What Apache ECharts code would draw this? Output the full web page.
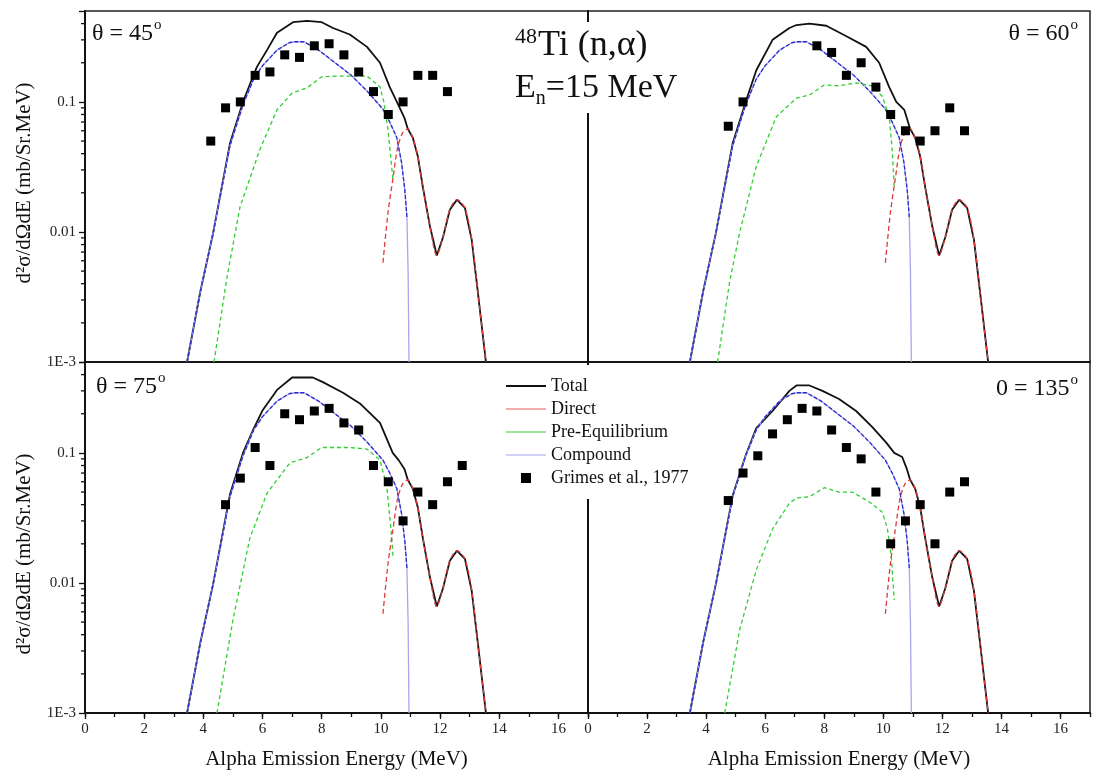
<!DOCTYPE html>
<html><head><meta charset="utf-8">
<script src="https://cdn.jsdelivr.net/npm/echarts@6/dist/echarts.min.js"></script>
<style>html,body{margin:0;padding:0;background:#fff}#c{width:1094px;height:775px}</style>
</head><body><div id="c"></div>
<script>
// ---------- DATA ----------
const directCurve = [[10.07,0.0058],[10.24,0.014],[10.41,0.026],[10.57,0.045],[10.74,0.058],[10.91,0.062],[11.08,0.053],[11.25,0.038],[11.42,0.022],[11.66,0.011],[11.89,0.0066],[12.1,0.0091],[12.33,0.0148],[12.57,0.0177],[12.84,0.0153],[13.07,0.0087],[13.28,0.0034],[13.55,0.001]];
const totalTail = [[11.08,0.053],[11.25,0.038],[11.42,0.022],[11.66,0.011],[11.89,0.0066],[12.1,0.0091],[12.33,0.0148],[12.57,0.0177],[12.84,0.0153],[13.07,0.0087],[13.28,0.0034],[13.55,0.001]];
const compoundCurve = [[3.45,0.001],[3.9,0.0035],[4.33,0.0098],[4.9,0.046],[5.34,0.095],[5.7,0.15],[6.0,0.19],[6.49,0.25],[6.9,0.285],[7.1,0.29],[7.4,0.29],[7.9,0.25],[8.45,0.2],[9.0,0.16],[9.55,0.12],[10.07,0.088],[10.3,0.07],[10.54,0.053],[10.7,0.034],[10.81,0.021],[10.88,0.013],[10.92,0.005],[10.95,0.001]];

const total45 = [[3.45,0.001],[3.9,0.0035],[4.33,0.0098],[4.9,0.048],[5.34,0.1],[5.81,0.186],[6.15,0.25],[6.49,0.34],[7.03,0.41],[7.5,0.42],[8.0,0.41],[8.38,0.37],[8.95,0.33],[9.53,0.265],[9.97,0.2],[10.3,0.13],[10.54,0.1],[10.8,0.075],[10.91,0.062]];
const total60 = [[3.45,0.001],[3.9,0.0035],[4.33,0.0098],[4.9,0.048],[5.34,0.1],[5.7,0.175],[6.25,0.3],[6.82,0.37],[7.06,0.39],[7.5,0.4],[8.07,0.385],[8.75,0.32],[9.42,0.265],[9.86,0.2],[10.2,0.13],[10.44,0.1],[10.71,0.087],[10.91,0.062]];
const total75 = [[3.45,0.001],[3.9,0.0035],[4.33,0.0098],[4.9,0.048],[5.34,0.1],[5.68,0.15],[6.01,0.214],[6.49,0.305],[7.0,0.38],[7.7,0.38],[8.04,0.35],[8.72,0.29],[9.29,0.24],[9.97,0.17],[10.4,0.1],[10.6,0.088],[10.8,0.075],[10.91,0.062]];
const total135 = [[3.45,0.001],[3.9,0.0035],[4.33,0.0098],[4.9,0.047],[5.34,0.096],[5.7,0.155],[6.25,0.21],[6.82,0.3],[7.06,0.33],[7.5,0.33],[7.94,0.3],[8.5,0.26],[9.08,0.21],[9.63,0.158],[10.1,0.12],[10.37,0.1],[10.64,0.093],[10.8,0.075],[10.91,0.062]];

const preEq45 = [[4.36,0.001],[4.8,0.0045],[5.24,0.0156],[5.91,0.043],[6.49,0.087],[7.0,0.117],[7.5,0.128],[8.0,0.156],[8.5,0.158],[9.05,0.158],[9.53,0.158],[9.97,0.13],[10.1,0.1],[10.24,0.061],[10.41,0.025]];
const preEq60 = [[4.39,0.001],[4.8,0.0042],[5.14,0.01],[5.7,0.032],[6.38,0.077],[7.06,0.107],[7.5,0.113],[8.0,0.135],[8.5,0.133],[9.08,0.14],[9.6,0.133],[9.97,0.11],[10.2,0.077],[10.3,0.043],[10.37,0.022]];
const preEq75 = [[4.46,0.001],[5.0,0.0052],[5.57,0.022],[6.15,0.049],[6.93,0.084],[7.5,0.092],[8.0,0.11],[8.95,0.11],[9.53,0.107],[9.97,0.088],[10.2,0.055],[10.37,0.022],[10.41,0.016]];
const preEq135 = [[4.63,0.001],[5.14,0.0044],[5.7,0.0126],[6.25,0.026],[6.82,0.041],[7.06,0.045],[7.5,0.046],[8.0,0.054],[8.5,0.05],[8.95,0.05],[9.53,0.042],[9.97,0.035],[10.14,0.026],[10.27,0.016],[10.37,0.0074]];

const energies45 = [4.25,4.75,5.25,5.75,6.25,6.75,7.25,7.75,8.25,8.75,9.25,9.75,10.25,10.75,11.25,11.75,12.25];
const grimes45 = [0.05,0.09,0.1,0.16,0.17,0.23,0.22,0.27,0.28,0.23,0.17,0.12,0.08,0.1,0.16,0.16,0.12];
const energies60 = [4.75,5.25,7.75,8.25,8.75,9.25,9.75,10.25,10.75,11.25,11.75,12.25,12.75];
const grimes60 = [0.065,0.1,0.27,0.24,0.16,0.2,0.13,0.08,0.06,0.05,0.06,0.09,0.06];
const energies75 = [4.75,5.25,5.75,6.25,6.75,7.25,7.75,8.25,8.75,9.25,9.75,10.25,10.75,11.25,11.75,12.25,12.75];
const grimes75 = [0.04,0.064,0.11,0.08,0.2,0.18,0.21,0.22,0.17,0.15,0.08,0.06,0.03,0.05,0.04,0.06,0.08];
const energies135 = [4.75,5.25,5.75,6.25,6.75,7.25,7.75,8.25,8.75,9.25,9.75,10.25,10.75,11.25,11.75,12.25,12.75];
const grimes135 = [0.043,0.07,0.095,0.14,0.18,0.22,0.21,0.15,0.11,0.09,0.05,0.02,0.03,0.04,0.02,0.05,0.06];

const yMinorTicks = [0.002,0.003,0.004,0.005,0.006,0.007,0.008,0.009,0.02,0.03,0.04,0.05,0.06,0.07,0.08,0.09,0.2,0.3,0.4];
const panelLabels = ['θ = 45', 'θ = 60', 'θ = 75', '0 = 135'];
const legendNames = ['Total','Direct','Pre-Equilibrium','Compound','Grimes et al., 1977'];
const xTitle = 'Alpha Emission Energy (MeV)';
const yTitle = 'd²σ/dΩdE (mb/Sr.MeV)';

// ---------- CHART ----------
const FONT = "'Liberation Serif','Times New Roman',serif";
const chart = echarts.init(document.getElementById('c'), null, {renderer:'canvas'});

const grids = [
  {left:85, top:11, width:503, height:351},
  {left:588, top:11, width:502, height:351},
  {left:85, top:362, width:503, height:351},
  {left:588, top:362, width:502, height:351}
].map(g => Object.assign({show:true, borderColor:'#222', borderWidth:1.5, backgroundColor:'transparent'}, g));

function yLabel(v){
  const l = Math.log10(v);
  if (Math.abs(l+3) < 1e-6) return '1E-3';
  if (Math.abs(l+2) < 1e-6) return '0.01';
  if (Math.abs(l+1) < 1e-6) return '0.1';
  return '';
}
const xAxes = [];
for (let i=0;i<4;i++){
  const bottom = i >= 2;
  xAxes.push({
    type:'value', gridIndex:i, position:'bottom', min:0, max:17, interval:2,
    axisLine:{show:true, lineStyle:{color:'#111', width: bottom?2:1.5}},
    axisTick:{show:bottom, inside:false, length:6, lineStyle:{color:'#111', width:1.3}},
    axisLabel:{show:bottom, showMaxLabel:false, margin:9, fontFamily:FONT, fontSize:15, color:'#222',
      formatter: v => (v % 2 === 0 ? String(v) : '')},
    splitLine:{show:false},
    name: bottom ? xTitle : '', nameLocation:'middle', nameGap:36,
    nameTextStyle:{fontFamily:FONT, fontSize:21, color:'#111'}
  });
}
for (let i=2;i<4;i++){
  xAxes.push({
    type:'value', gridIndex:i, position:'bottom', min:0, max:17, interval:1,
    axisLine:{show:false}, axisLabel:{show:false}, splitLine:{show:false},
    axisTick:{show:true, inside:false, length:4, lineStyle:{color:'#111', width:1.3}}
  });
}
const yAxes = [];
for (let i=0;i<4;i++){
  const left = (i % 2 === 0);
  yAxes.push({
    type:'log', logBase:10, gridIndex:i, position:'left', min:0.001, max:0.5,
    axisLine:{show:true, lineStyle:{color:'#111', width:2}},
    axisTick:{show:left, inside:false, length:6, lineStyle:{color:'#111', width:1.3}},
    axisLabel:{show:left, margin:9, fontFamily:FONT, fontSize:15, color:'#222', formatter:yLabel},
    splitLine:{show:false}, minorTick:{show:false}
  });
}

function toPts(xs, ys){ return xs.map((x,i)=>[x, ys[i]]); }

const panels = [
  {total: total45.concat(totalTail), pre: preEq45, pts: toPts(energies45, grimes45)},
  {total: total60.concat(totalTail), pre: preEq60, pts: toPts(energies60, grimes60)},
  {total: total75.concat(totalTail), pre: preEq75, pts: toPts(energies75, grimes75)},
  {total: total135.concat(totalTail), pre: preEq135, pts: toPts(energies135, grimes135)}
];

const C_TOTAL = '#111', C_COMP = '#a6a6f0', C_COMP2 = '#2b2bcc', C_PRE = '#2fcf2f', C_DIR = '#e03a3a';
const series = [];
panels.forEach((p, i) => {
  const ax = {xAxisIndex:i, yAxisIndex:i};
  series.push(Object.assign({name:'Total', type:'line', data:p.total, symbol:'none', z:2,
    lineStyle:{color:C_TOTAL, width:1.8}, itemStyle:{color:C_TOTAL}}, ax));
  series.push(Object.assign({name:'Compound', type:'line', data:compoundCurve, symbol:'none', z:2,
    lineStyle:{color:C_COMP, width:1.3}, itemStyle:{color:C_COMP}}, ax));
  series.push(Object.assign({name:'Compound overlay', type:'line', data:compoundCurve.slice(0, compoundCurve.length-2), symbol:'none', z:2,
    lineStyle:{color:C_COMP2, width:1.3, type:[4,2]}, itemStyle:{color:C_COMP2}}, ax));
  series.push(Object.assign({name:'Pre-Equilibrium', type:'line', data:p.pre, symbol:'none', z:2,
    lineStyle:{color:C_PRE, width:1.3, type:[4,3]}, itemStyle:{color:C_PRE}}, ax));
  series.push(Object.assign({name:'Direct', type:'line', data:directCurve, symbol:'none', smooth:0.3, z:2,
    lineStyle:{color:C_DIR, width:1.3, type:[5,3]}, itemStyle:{color:C_DIR}}, ax));
  series.push(Object.assign({name:'Grimes et al., 1977', type:'scatter', data:p.pts, symbol:'rect', symbolSize:9, z:3,
    itemStyle:{color:'#000', opacity:1}}, ax));
});
// minor log ticks on left y axes
[[0,0],[2,2]].forEach(([xi, yi]) => {
  series.push({
    name:'yminor'+yi, type:'custom', xAxisIndex:xi, yAxisIndex:yi, clip:false, silent:true, z:3,
    data: yMinorTicks.map(v => [0, v]), encode:{x:0, y:1},
    renderItem: (params, api) => {
      const pt = api.coord([api.value(0), api.value(1)]);
      return {type:'line', shape:{x1:pt[0]-4, y1:pt[1], x2:pt[0], y2:pt[1]},
        style:{stroke:'#111', lineWidth:1.3}};
    }
  });
});

const supRich = {
  t:{fontFamily:FONT, fontSize:24, fontWeight:'normal', color:'#111', lineHeight:28},
  o:{fontFamily:FONT, fontSize:15, fontWeight:'normal', color:'#111', lineHeight:28, padding:[0,0,18,1]}
};
const titles = [
  {left:92, top:20, text:'{t|'+panelLabels[0]+'}{o|o}'},
  {right:16, top:20, text:'{t|'+panelLabels[1]+'}{o|o}'},
  {left:96, top:373, text:'{t|'+panelLabels[2]+'}{o|o}'},
  {right:16, top:375, text:'{t|'+panelLabels[3]+'}{o|o}'}
].map(t => Object.assign({padding:0, textStyle:{fontWeight:'normal', rich:supRich}}, t));
titles.push({
  left:509, top:21, textAlign:'left', padding:[4,6,4,6], backgroundColor:'#fff',
  text:'{sup|48}{m1|Ti (n,α)}\n{m|E}{sub|n}{m|=15 MeV}',
  textStyle:{fontWeight:'normal', rich:{
    m1:{fontFamily:FONT, fontSize:36, fontWeight:'normal', color:'#111', lineHeight:42},
    m:{fontFamily:FONT, fontSize:34, fontWeight:'normal', color:'#111', lineHeight:42},
    sup:{fontFamily:FONT, fontSize:22, fontWeight:'normal', color:'#111', lineHeight:42, padding:[0,1,18,0]},
    sub:{fontFamily:FONT, fontSize:20, fontWeight:'normal', color:'#111', lineHeight:42, padding:[22,0,0,0]}
  }}
});

chart.setOption({
  animation:false,
  backgroundColor:'#fff',
  grid:grids, xAxis:xAxes, yAxis:yAxes, series:series, title:titles,
  legend:{
    orient:'vertical', left:500, top:365, padding:[12,8,12,6], itemGap:5, itemWidth:40, itemHeight:10,
    backgroundColor:'#fff', selectedMode:false, symbolKeepAspect:true,
    textStyle:{fontFamily:FONT, fontSize:18, color:'#111'},
    data:[
      {name:legendNames[0], icon:'path://M0,0H40V2H0Z', itemStyle:{color:C_TOTAL}},
      {name:legendNames[1], icon:'path://M0,0H40V1.2H0Z', itemStyle:{color:'#e85a5a'}},
      {name:legendNames[2], icon:'path://M0,0H40V1.2H0Z', itemStyle:{color:'#3ad03a'}},
      {name:legendNames[3], icon:'path://M0,0H40V1.2H0Z', itemStyle:{color:C_COMP}},
      {name:legendNames[4], icon:'path://M0,0H10V10H0Z', itemStyle:{color:'#000'}}
    ]
  },
  graphic:[
    {type:'text', x:24, y:183, rotation:Math.PI/2, style:{text:yTitle, fontFamily:FONT, fontSize:21, fill:'#111', align:'center', verticalAlign:'middle'}},
    {type:'text', x:24, y:554, rotation:Math.PI/2, style:{text:yTitle, fontFamily:FONT, fontSize:21, fill:'#111', align:'center', verticalAlign:'middle'}}
  ]
});
</script></body></html>
